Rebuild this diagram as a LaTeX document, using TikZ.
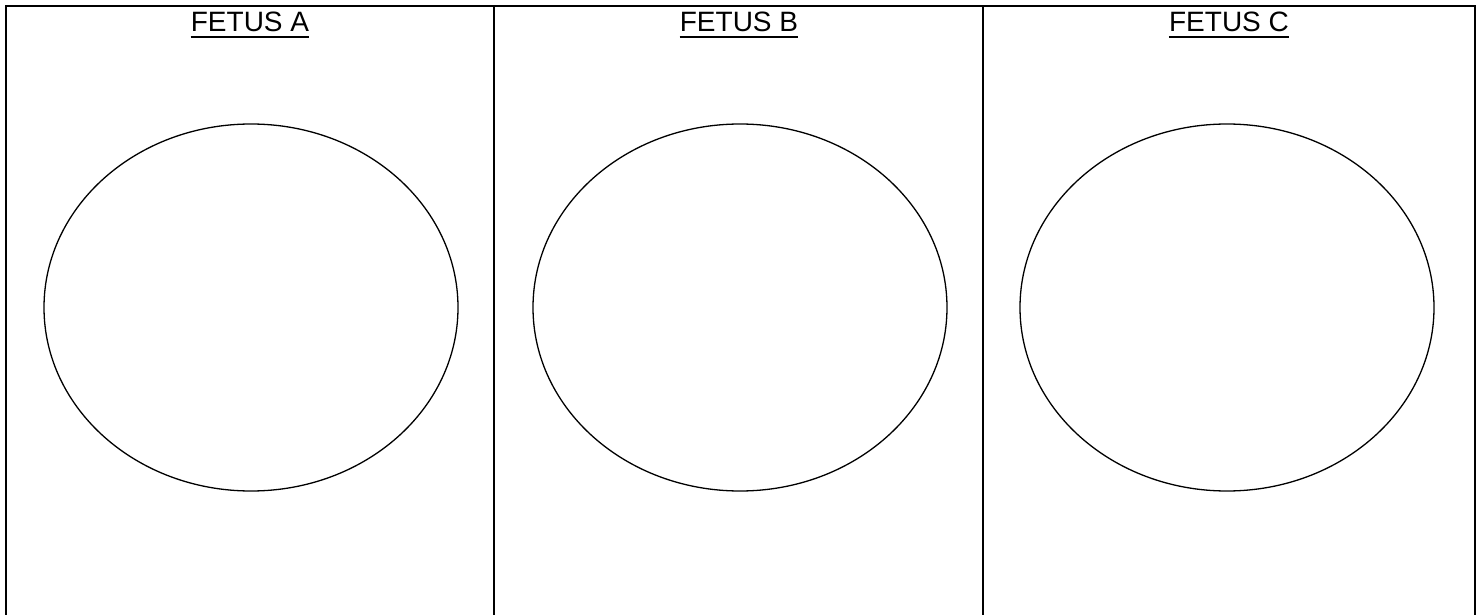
\documentclass[tikz,border=0pt]{standalone}
\usepackage{fontspec}
\setmainfont{Liberation Sans}
\begin{document}
\begin{tikzpicture}[x=1pt, y=-1pt,
    frame/.style={line width=2pt},
    oval/.style={line width=1.3pt},
    title/.style={inner sep=0pt, anchor=base, font=\fontsize{28}{34}\selectfont}]
    \useasboundingbox (0,0) rectangle (1481,615);

    % Khung bảng (không có cạnh dưới)
    \draw[frame] (6,615) -- (6,6) -- (1475,6) -- (1475,615);
    \draw[frame] (494,6) -- (494,615);
    \draw[frame] (983,6) -- (983,615);

    % Tiêu đề gạch chân và hình bầu dục cho từng cột
    \foreach \name/\cx/\ex in {A/250/251, B/739/740, C/1229/1227} {
        \node[title] (fetus\name) at (\cx,32) {FETUS \name};
        \draw[line width=1.5pt] ([yshift=-5pt]fetus\name.base west) -- ([yshift=-5pt]fetus\name.base east);
        \draw[oval] (\ex,307.5) ellipse (207 and 183.5);
    }
\end{tikzpicture}
\end{document}
